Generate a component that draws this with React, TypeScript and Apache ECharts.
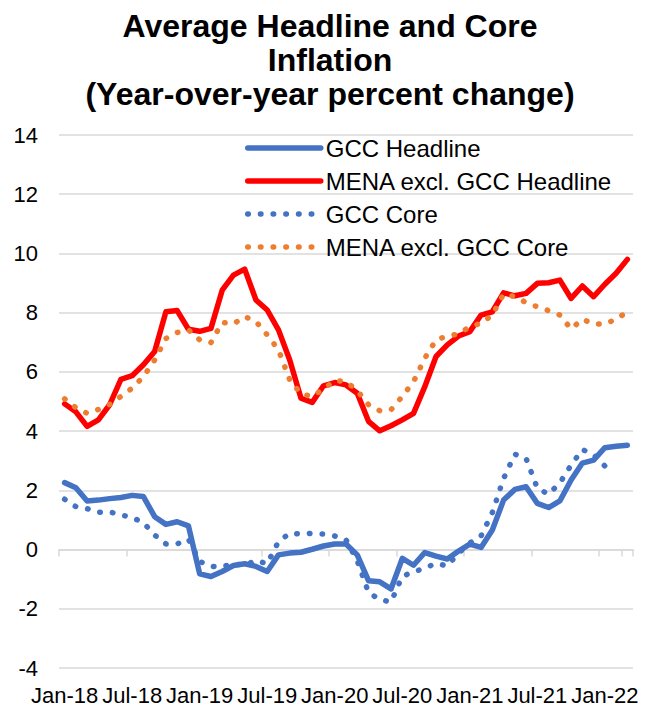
import React, { useEffect, useRef } from "react";
import * as echarts from "echarts";

const months: string[] = [
  "Jan-18", "Feb-18", "Mar-18", "Apr-18", "May-18", "Jun-18",
  "Jul-18", "Aug-18", "Sep-18", "Oct-18", "Nov-18", "Dec-18",
  "Jan-19", "Feb-19", "Mar-19", "Apr-19", "May-19", "Jun-19",
  "Jul-19", "Aug-19", "Sep-19", "Oct-19", "Nov-19", "Dec-19",
  "Jan-20", "Feb-20", "Mar-20", "Apr-20", "May-20", "Jun-20",
  "Jul-20", "Aug-20", "Sep-20", "Oct-20", "Nov-20", "Dec-20",
  "Jan-21", "Feb-21", "Mar-21", "Apr-21", "May-21", "Jun-21",
  "Jul-21", "Aug-21", "Sep-21", "Oct-21", "Nov-21", "Dec-21",
  "Jan-22", "Feb-22", "Mar-22",
];

// Months that carry a tick label on the axis
const labelledMonths: string[] = [
  "Jan-18", "Jul-18", "Jan-19", "Jul-19", "Jan-20", "Jul-20", "Jan-21", "Jul-21", "Jan-22",
];

const gccHeadline: (number | null)[] = [
  2.26, 2.09, 1.64, 1.67, 1.72, 1.76, 1.83, 1.79, 1.11, 0.85, 0.94, 0.8,
  -0.82, -0.91, -0.74, -0.54, -0.48, -0.57, -0.74, -0.18, -0.12, -0.09, 0.01, 0.12,
  0.19, 0.19, -0.18, -1.05, -1.09, -1.33, -0.3, -0.53, -0.1, -0.22, -0.32, -0.05,
  0.18, 0.07, 0.66, 1.67, 2.03, 2.12, 1.56, 1.42, 1.64, 2.35, 2.92, 3.02,
  3.44, 3.49, 3.52,
];

const menaHeadline: (number | null)[] = [
  4.92, 4.65, 4.16, 4.38, 4.89, 5.75, 5.87, 6.24, 6.69, 8.03, 8.07, 7.44,
  7.37, 7.47, 8.76, 9.27, 9.47, 8.43, 8.09, 7.42, 6.4, 5.11, 4.97, 5.53,
  5.64, 5.56, 5.28, 4.33, 4.01, 4.18, 4.38, 4.6, 5.5, 6.52, 6.91, 7.21,
  7.36, 7.92, 8.03, 8.67, 8.57, 8.65, 8.99, 9.01, 9.1, 8.48, 8.9, 8.54,
  8.96, 9.33, 9.8,
];

const gccCore: (number | null)[] = [
  1.7, 1.45, 1.38, 1.26, 1.27, 1.17, 1.08, 0.91, 0.49, 0.19, 0.19, 0.35,
  -0.4, -0.57, -0.58, -0.48, -0.53, -0.37, -0.48, 0.27, 0.55, 0.53, 0.55, 0.52,
  0.46, 0.33, -0.38, -1.45, -1.69, -1.77, -0.9, -0.76, -0.62, -0.47, -0.55, -0.12,
  0.22, 0.46, 1.25, 2.4, 3.22, 3.08, 2.07, 1.87, 2.25, 2.85, 3.38, 3.2,
  2.82, 2.9, null,
];

const menaCore: (number | null)[] = [
  5.09, 4.79, 4.6, 4.73, 4.9, 5.17, 5.45, 5.84, 6.4, 7.13, 7.33, 7.42,
  7.08, 6.99, 7.67, 7.62, 7.87, 7.7, 7.25, 6.74, 5.73, 5.26, 5.17, 5.42,
  5.71, 5.67, 5.37, 4.89, 4.69, 4.72, 5.17, 5.67, 6.46, 7.08, 7.21, 7.28,
  7.53, 7.64, 7.92, 8.63, 8.54, 8.34, 8.2, 8.07, 7.92, 7.45, 7.78, 7.62,
  7.62, 7.78, 8.03,
];

const seriesNames: string[] = [
  "GCC Headline",
  "MENA excl. GCC Headline",
  "GCC Core",
  "MENA excl. GCC Core",
];

const titleText = "Average Headline and Core\nInflation\n(Year-over-year percent change)";

const FONT = '"Liberation Sans", Arial, Helvetica, sans-serif';
const BLUE = "#4472C4";
const RED = "#FF0000";
const ORANGE = "#ED7D31";
const GRID = "#d9d9d9";
const DOTS = [0.5, 12.2];

export default function App() {
  const ref = useRef<HTMLDivElement>(null);

  useEffect(() => {
    if (!ref.current) return;
    const chart = echarts.init(ref.current, undefined, { renderer: "svg" });

    const solid = (color: string) => ({
      color,
      width: 5.5,
      cap: "round",
      join: "round",
    });
    const dotted = (color: string) => ({
      color,
      width: 5.5,
      type: DOTS,
      cap: "round",
      join: "round",
    });

    const option: any = {
      animation: false,
      backgroundColor: "#ffffff",
      textStyle: { fontFamily: FONT },
      graphic: [
        {
          type: "text",
          x: 330,
          y: 9,
          style: {
            text: titleText,
            font: `bold 32px ${FONT}`,
            fill: "#000000",
            align: "center",
            textAlign: "center",
            verticalAlign: "top",
            lineHeight: 34,
          },
        },
      ],
      legend: {
        orient: "vertical",
        left: 245,
        top: 136,
        padding: 0,
        itemWidth: 73,
        itemHeight: 24,
        itemGap: 9,
        data: seriesNames,
        itemStyle: { opacity: 0 },
        lineStyle: { width: 5.5, cap: "round" },
        textStyle: {
          fontFamily: FONT,
          fontSize: 24,
          lineHeight: 24,
          color: "#000000",
        },
      },
      grid: {
        left: 59,
        right: 13,
        top: 135,
        bottom: 40,
        containLabel: false,
        outerBoundsMode: "none",
      },
      xAxis: {
        type: "category",
        data: months,
        boundaryGap: true,
        axisLine: {
          show: true,
          onZero: true,
          lineStyle: { color: GRID, width: 1.5 },
        },
        axisTick: {
          show: true,
          interval: 5,
          length: 7,
          lineStyle: { color: GRID, width: 1.5 },
        },
        axisLabel: {
          interval: 0,
          margin: 16,
          fontSize: 22,
          lineHeight: 22,
          color: "#000000",
          fontFamily: FONT,
          hideOverlap: false,
          formatter: (value: string) =>
            labelledMonths.indexOf(value) >= 0 ? value : "",
        },
        splitLine: { show: false },
      },
      yAxis: {
        type: "value",
        min: -4,
        max: 14,
        interval: 2,
        axisLine: { show: false },
        axisTick: { show: false },
        axisLabel: {
          fontSize: 22,
          color: "#000000",
          margin: 21,
          fontFamily: FONT,
        },
        splitLine: { lineStyle: { color: GRID, width: 1.5 } },
      },
      series: [
        {
          name: seriesNames[0],
          type: "line",
          data: gccHeadline,
          symbol: "none",
          color: BLUE,
          lineStyle: solid(BLUE),
        },
        {
          name: seriesNames[1],
          type: "line",
          data: menaHeadline,
          symbol: "none",
          color: RED,
          lineStyle: solid(RED),
        },
        {
          name: seriesNames[2],
          type: "line",
          data: gccCore,
          symbol: "none",
          color: BLUE,
          lineStyle: dotted(BLUE),
        },
        {
          name: seriesNames[3],
          type: "line",
          data: menaCore,
          symbol: "none",
          color: ORANGE,
          lineStyle: dotted(ORANGE),
        },
      ],
    };

    chart.setOption(option);
    return () => {
      chart.dispose();
    };
  }, []);

  return (
    <div
      ref={ref}
      style={{
        position: "fixed",
        left: 0,
        top: 0,
        width: 646,
        height: 708,
        background: "#fff",
      }}
    />
  );
}
